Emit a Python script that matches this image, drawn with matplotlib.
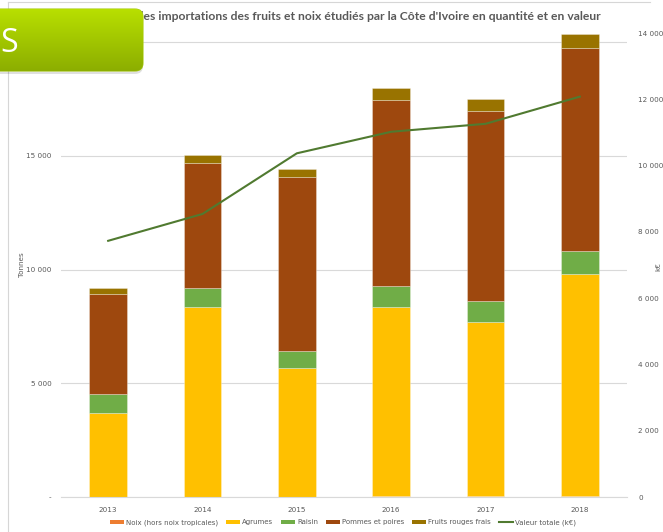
import numpy as np
import matplotlib
matplotlib.use("Agg")
import matplotlib.pyplot as plt
from matplotlib.patches import FancyBboxPatch, Patch
from matplotlib.lines import Line2D

# ---- data ----
years = ["2013", "2014", "2015", "2016", "2017", "2018"]
noix = [20, 20, 20, 25, 60, 40]
agrumes = [3660, 8320, 5640, 8315, 7620, 9760]
raisin = [850, 830, 770, 950, 950, 1030]
pommes = [4390, 5500, 7650, 8160, 8350, 8890]
fruits_rouges = [250, 360, 320, 510, 510, 620]
valeur = [7730, 8540, 10370, 11020, 11260, 12080]

left_ticks = [0, 5000, 10000, 15000, 20000]
left_labels = ["-", "5 000", "10 000", "15 000", "20 000"]
right_ticks = [0, 2000, 4000, 6000, 8000, 10000, 12000, 14000]
right_labels = ["0", "2 000", "4 000", "6 000", "8 000", "10 000", "12 000", "14 000"]

series_names = ["Noix (hors noix tropicales)", "Agrumes", "Raisin", "Pommes et poires", "Fruits rouges frais"]
line_name = "Valeur totale (k€)"
title_hidden = "Évolution d"
title_visible = "es importations des fruits et noix étudiés par la Côte d'Ivoire en quantité et en valeur"

colors = ["#ED7D31", "#FFC000", "#70AD47", "#9E480E", "#997300"]
line_color = "#507A30"
txt = "#595959"

W, H = 663, 532
fig = plt.figure(figsize=(W / 100, H / 100), dpi=100)
fig.patch.set_facecolor("white")

ax = fig.add_axes([61 / W, 35 / H, 566 / W, 464 / H])
x = np.arange(len(years))
bottom = np.zeros(len(years))
for vals, c in zip([noix, agrumes, raisin, pommes, fruits_rouges], colors):
    ax.bar(x, vals, width=0.4, bottom=bottom, color=c, edgecolor=(1, 1, 1, 0.35), linewidth=0.6, zorder=2)
    bottom += np.array(vals)

ax.set_xlim(-0.5, 5.5)
ax.set_ylim(0, 20400)
ax.set_yticks(left_ticks)
ax.set_yticklabels(left_labels)
ax.set_xticks(x)
ax.set_xticklabels(years)
ax.tick_params(axis="both", length=0, labelsize=5.2, colors=txt)
ax.tick_params(axis="y", pad=7)
ax.tick_params(axis="x", pad=7)
ax.yaxis.grid(True, color="#D9D9D9", linewidth=0.8, zorder=0)
ax.set_axisbelow(True)
for s in ["top", "right", "left"]:
    ax.spines[s].set_visible(False)
ax.spines["bottom"].set_color("#D9D9D9")
ax.spines["bottom"].set_linewidth(0.8)

ax2 = ax.twinx()
ax2.plot(x, valeur, color=line_color, linewidth=1.5, zorder=3)
ax2.set_ylim(0, 14000)
ax2.set_yticks(right_ticks)
ax2.set_yticklabels(right_labels)
ax2.tick_params(axis="y", length=0, labelsize=5.2, colors=txt, pad=8)
for s in ["top", "right", "left", "bottom"]:
    ax2.spines[s].set_visible(False)

fig.text(22 / W, 1 - 265 / H, "Tonnes", rotation=90, fontsize=5.2, color=txt, ha="center", va="center")
fig.text(658 / W, 1 - 267 / H, "k€", rotation=90, fontsize=5.2, color=txt, ha="center", va="center")

# title: the visible part (from "les ...") spans x=143..601 px in the reference
renderer = fig.canvas.get_renderer()
probe = fig.text(0, 0, "l" + title_visible, fontsize=10, weight="bold", family="Lato")
wpx = probe.get_window_extent(renderer).width
probe.remove()
tsize = 10 * 458 / wpx
fig.text(601 / W, 1 - 16 / H, title_hidden + title_visible, ha="right", va="center",
         fontsize=tsize, weight="bold", color=txt, family="Lato")

handles = [Patch(facecolor=c, edgecolor="none") for c in colors]
handles.append(Line2D([0], [0], color=line_color, linewidth=1.5))
fig.legend(handles, series_names + [line_name], loc="center",
           bbox_to_anchor=(343 / W, 1 - 522.5 / H), ncol=6, frameon=False,
           fontsize=5, handlelength=2.0, handleheight=0.6, columnspacing=1.15,
           handletextpad=0.3, labelcolor=txt)

# slide border lines
fig.add_artist(Line2D([8 / W, 8 / W], [0, 1 - 2 / H], color="#D6D6D6", linewidth=0.8))
fig.add_artist(Line2D([8 / W, 650 / W], [1 - 2 / H, 1 - 2 / H], color="#D6D6D6", linewidth=0.8))

# green overlay box
oax = fig.add_axes([0, 0, 1, 1], zorder=10)
oax.set_xlim(0, W)
oax.set_ylim(H, 0)
oax.axis("off")
oax.patch.set_alpha(0)
shadow = FancyBboxPatch((-12, 12), 155, 62, boxstyle="round,pad=0,rounding_size=8",
                        facecolor=(0, 0, 0, 0.12), edgecolor="none")
oax.add_patch(shadow)
box = FancyBboxPatch((-12, 9), 155, 62, boxstyle="round,pad=0,rounding_size=8",
                     facecolor="none", edgecolor="#A8CC10", linewidth=0.8)
oax.add_patch(box)
top_c = np.array([0xB8, 0xDF, 0x00]) / 255
bot_c = np.array([0x8C, 0xAE, 0x00]) / 255
t = np.linspace(0, 1, 100)[:, None, None]
grad = top_c * (1 - t) + bot_c * t
grad = np.repeat(grad, 2, axis=1)
im = oax.imshow(grad, extent=(-12, 143, 71, 9), aspect="auto", zorder=1)
im.set_clip_path(box)
oax.text(0, 44, "S", fontsize=23, color="white", ha="left", va="center", family="Open Sans", zorder=3)
oax.set_xlim(0, W)
oax.set_ylim(H, 0)

fig.savefig("out.png", dpi=100)
